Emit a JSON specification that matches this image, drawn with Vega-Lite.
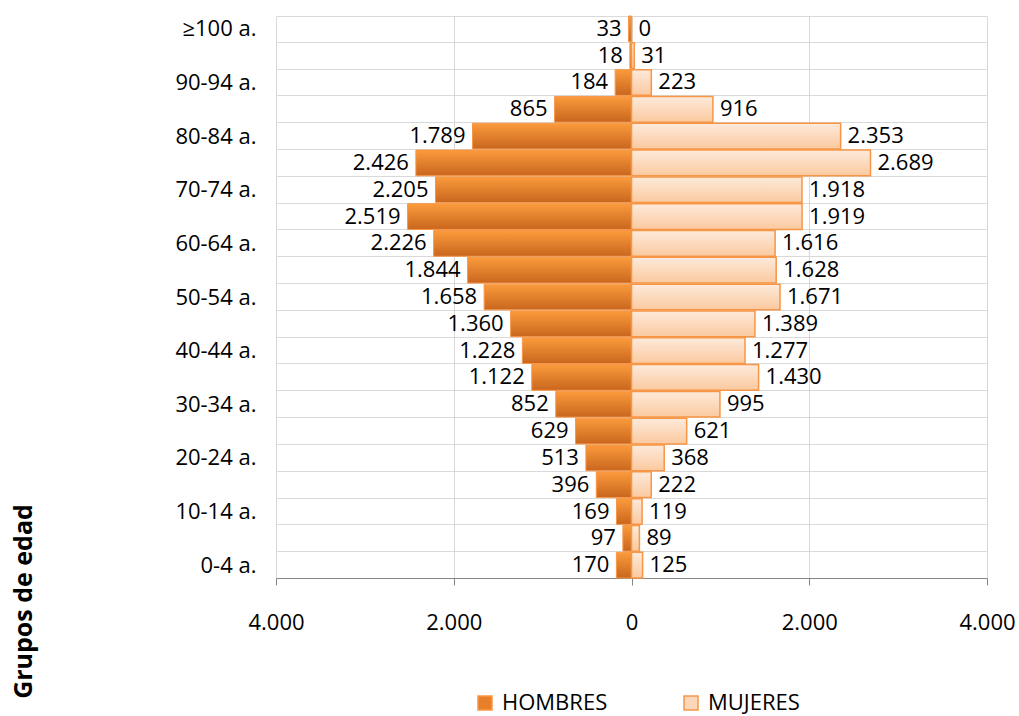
{
  "$schema": "https://vega.github.io/schema/vega-lite/v6.json",
  "autosize": {"type": "none"},
  "padding": {"left": 276, "top": 16, "right": 32, "bottom": 138},
  "width": 711,
  "height": 562,
  "config": {
    "font": "Open Sans",
    "view": {"stroke": null},
    "locale": {"number": {"decimal": ",", "thousands": ".", "grouping": [3], "currency": ["", " €"]}}
  },
  "data": {
    "values": [
      {"grupo": "0-4 a.", "sexo": "HOMBRES", "valor": -170},
      {"grupo": "0-4 a.", "sexo": "MUJERES", "valor": 125},
      {"grupo": "5-9 a.", "sexo": "HOMBRES", "valor": -97},
      {"grupo": "5-9 a.", "sexo": "MUJERES", "valor": 89},
      {"grupo": "10-14 a.", "sexo": "HOMBRES", "valor": -169},
      {"grupo": "10-14 a.", "sexo": "MUJERES", "valor": 119},
      {"grupo": "15-19 a.", "sexo": "HOMBRES", "valor": -396},
      {"grupo": "15-19 a.", "sexo": "MUJERES", "valor": 222},
      {"grupo": "20-24 a.", "sexo": "HOMBRES", "valor": -513},
      {"grupo": "20-24 a.", "sexo": "MUJERES", "valor": 368},
      {"grupo": "25-29 a.", "sexo": "HOMBRES", "valor": -629},
      {"grupo": "25-29 a.", "sexo": "MUJERES", "valor": 621},
      {"grupo": "30-34 a.", "sexo": "HOMBRES", "valor": -852},
      {"grupo": "30-34 a.", "sexo": "MUJERES", "valor": 995},
      {"grupo": "35-39 a.", "sexo": "HOMBRES", "valor": -1122},
      {"grupo": "35-39 a.", "sexo": "MUJERES", "valor": 1430},
      {"grupo": "40-44 a.", "sexo": "HOMBRES", "valor": -1228},
      {"grupo": "40-44 a.", "sexo": "MUJERES", "valor": 1277},
      {"grupo": "45-49 a.", "sexo": "HOMBRES", "valor": -1360},
      {"grupo": "45-49 a.", "sexo": "MUJERES", "valor": 1389},
      {"grupo": "50-54 a.", "sexo": "HOMBRES", "valor": -1658},
      {"grupo": "50-54 a.", "sexo": "MUJERES", "valor": 1671},
      {"grupo": "55-59 a.", "sexo": "HOMBRES", "valor": -1844},
      {"grupo": "55-59 a.", "sexo": "MUJERES", "valor": 1628},
      {"grupo": "60-64 a.", "sexo": "HOMBRES", "valor": -2226},
      {"grupo": "60-64 a.", "sexo": "MUJERES", "valor": 1616},
      {"grupo": "65-69 a.", "sexo": "HOMBRES", "valor": -2519},
      {"grupo": "65-69 a.", "sexo": "MUJERES", "valor": 1919},
      {"grupo": "70-74 a.", "sexo": "HOMBRES", "valor": -2205},
      {"grupo": "70-74 a.", "sexo": "MUJERES", "valor": 1918},
      {"grupo": "75-79 a.", "sexo": "HOMBRES", "valor": -2426},
      {"grupo": "75-79 a.", "sexo": "MUJERES", "valor": 2689},
      {"grupo": "80-84 a.", "sexo": "HOMBRES", "valor": -1789},
      {"grupo": "80-84 a.", "sexo": "MUJERES", "valor": 2353},
      {"grupo": "85-89 a.", "sexo": "HOMBRES", "valor": -865},
      {"grupo": "85-89 a.", "sexo": "MUJERES", "valor": 916},
      {"grupo": "90-94 a.", "sexo": "HOMBRES", "valor": -184},
      {"grupo": "90-94 a.", "sexo": "MUJERES", "valor": 223},
      {"grupo": "95-99 a.", "sexo": "HOMBRES", "valor": -18},
      {"grupo": "95-99 a.", "sexo": "MUJERES", "valor": 31},
      {"grupo": "≥100 a.", "sexo": "HOMBRES", "valor": -33},
      {"grupo": "≥100 a.", "sexo": "MUJERES", "valor": 0}
    ]
  },
  "encoding": {
    "y": {
      "field": "grupo",
      "type": "nominal",
      "sort": ["≥100 a.", "95-99 a.", "90-94 a.", "85-89 a.", "80-84 a.", "75-79 a.", "70-74 a.", "65-69 a.", "60-64 a.", "55-59 a.", "50-54 a.", "45-49 a.", "40-44 a.", "35-39 a.", "30-34 a.", "25-29 a.", "20-24 a.", "15-19 a.", "10-14 a.", "5-9 a.", "0-4 a."],
      "scale": {"paddingInner": 0.04, "paddingOuter": 0},
      "axis": {
        "title": "Grupos de edad",
        "titleFontSize": 25,
        "titleFontWeight": "bold",
        "titleColor": "#000000",
        "titleX": -253,
        "titleY": 585,
        "titleAngle": 270,
        "titleAlign": "center",
        "titleBaseline": "middle",
        "labelFontSize": 22,
        "labelColor": "#000000",
        "labelPadding": 20,
        "ticks": false,
        "tickSize": 0,
        "domain": false,
        "grid": true,
        "gridColor": "#d9d9d9",
        "gridWidth": 1,
        "tickBand": "extent",
        "labelExpr": "indexof(['95-99 a.', '85-89 a.', '75-79 a.', '65-69 a.', '55-59 a.', '45-49 a.', '35-39 a.', '25-29 a.', '15-19 a.', '5-9 a.'], datum.value) >= 0 ? '' : datum.label"
      }
    },
    "x": {
      "field": "valor",
      "type": "quantitative",
      "scale": {"domain": [-4000, 4000], "nice": false},
      "axis": {
        "title": null,
        "values": [-4000, -2000, 0, 2000, 4000],
        "labelExpr": "replace(format(abs(datum.value), ','), ',', '.')",
        "labelFontSize": 22,
        "labelColor": "#000000",
        "labelPadding": 27,
        "labelFlush": false,
        "tickSize": 7,
        "tickColor": "#868686",
        "domainColor": "#868686",
        "grid": true,
        "gridColor": "#d9d9d9",
        "gridWidth": 1
      }
    }
  },
  "layer": [
    {
      "transform": [{"filter": "datum.sexo === 'HOMBRES'"}],
      "mark": {
        "type": "bar",
        "stroke": "#f79646",
        "strokeWidth": 1,
        "fill": {"gradient": "linear", "x1": 0, "y1": 0, "x2": 0, "y2": 1, "stops": [{"offset": 0, "color": "#fb9b3c"}, {"offset": 1, "color": "#c9661e"}]}
      }
    },
    {
      "transform": [{"filter": "datum.sexo === 'MUJERES'"}],
      "mark": {
        "type": "bar",
        "stroke": "#f79646",
        "strokeWidth": 1.5,
        "fill": {"gradient": "linear", "x1": 0, "y1": 0, "x2": 0, "y2": 1, "stops": [{"offset": 0, "color": "#fdeadb"}, {"offset": 1, "color": "#fbc99f"}]}
      }
    },
    {
      "transform": [{"filter": "datum.sexo === 'HOMBRES'"}],
      "mark": {"type": "text", "align": "right", "baseline": "middle", "dx": -7, "fontSize": 22, "fill": "#000000", "text": {"expr": "replace(format(abs(datum.valor), ','), ',', '.')"}}
    },
    {
      "transform": [{"filter": "datum.sexo === 'MUJERES'"}],
      "mark": {"type": "text", "align": "left", "baseline": "middle", "dx": 7, "fontSize": 22, "fill": "#000000", "text": {"expr": "replace(format(abs(datum.valor), ','), ',', '.')"}}
    },
    {
      "mark": {"type": "square", "opacity": 0},
      "encoding": {
        "color": {
          "field": "sexo",
          "type": "nominal",
          "scale": {"domain": ["HOMBRES", "MUJERES"], "range": ["#e8802a", "#fcd8ba"]},
          "legend": {
            "title": null,
            "orient": "none",
            "direction": "horizontal",
            "legendX": 198,
            "legendY": 676,
            "symbolType": "square",
            "symbolSize": 196,
            "symbolOpacity": 1,
            "symbolStrokeColor": "#f79646",
            "symbolStrokeWidth": 1.5,
            "labelFontSize": 22,
            "labelColor": "#000000",
            "labelOffset": 6,
            "columnPadding": 72
          }
        }
      }
    }
  ]
}
